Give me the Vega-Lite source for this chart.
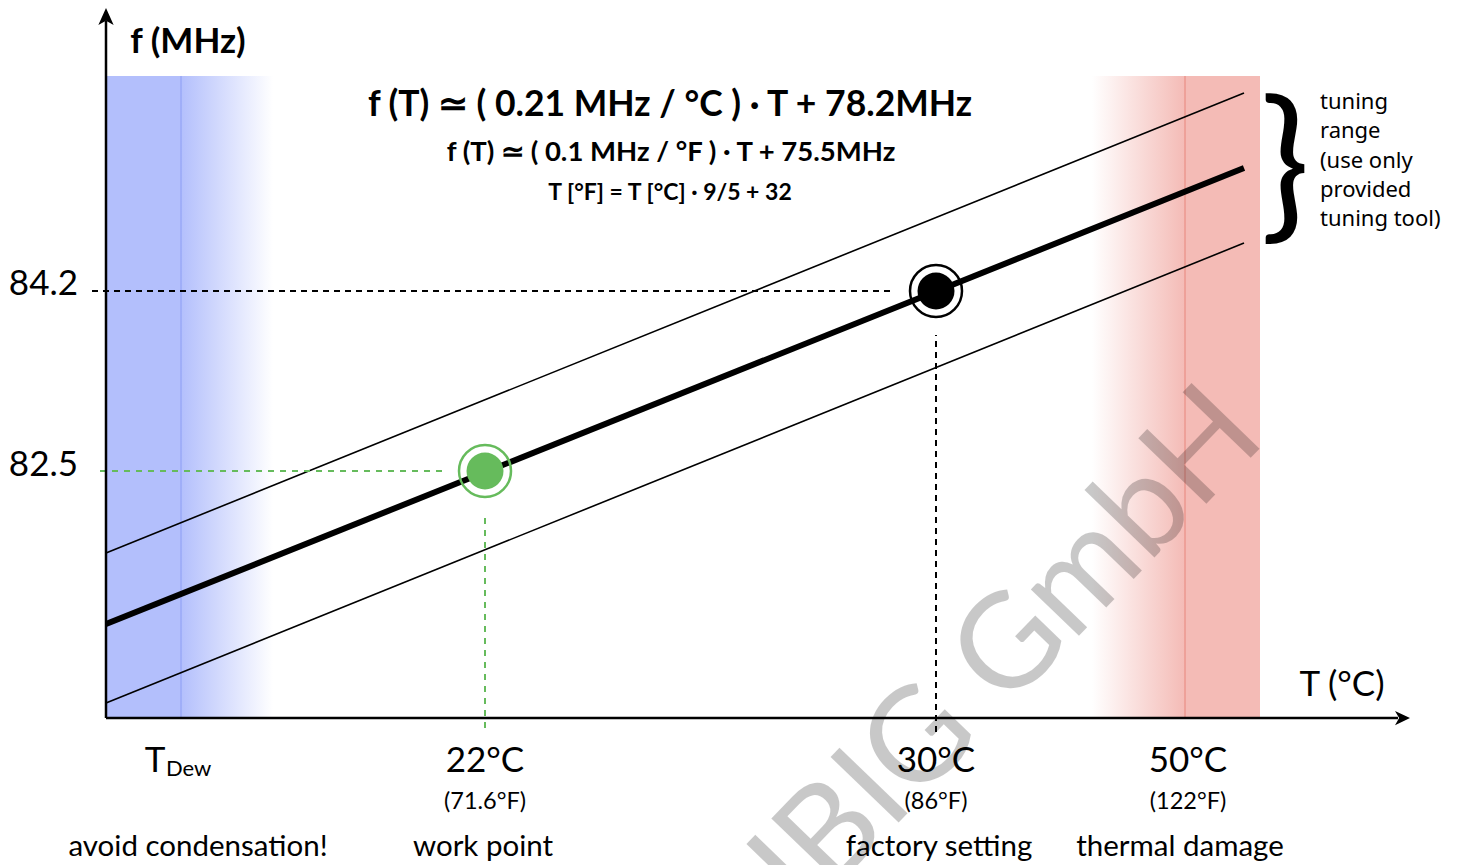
{
  "$schema": "https://vega.github.io/schema/vega-lite/v6.json",
  "width": 1461,
  "height": 865,
  "autosize": {"type": "none"},
  "padding": 0,
  "background": "#ffffff",
  "config": {"view": {"stroke": null}, "font": "Lato"},
  "encoding": {
    "x": {"field": "x", "type": "quantitative", "scale": {"domain": [0, 1461], "nice": false, "zero": false}, "axis": null},
    "y": {"field": "y", "type": "quantitative", "scale": {"domain": [78.7789, 86.9483], "nice": false, "zero": false}, "axis": null}
  },
  "layer": [
    {
      "data": {"values": [{"x": 106, "x2": 181, "y": 80.167, "y2": 86.2306}]},
      "mark": {"type": "rect", "fill": "#b3bffc", "strokeWidth": 0},
      "encoding": {"x2": {"field": "x2"}, "y2": {"field": "y2"}}
    },
    {
      "data": {"values": [{"x": 181, "x2": 273, "y": 80.167, "y2": 86.2306}]},
      "mark": {"type": "rect", "strokeWidth": 0, "fill": {"gradient": "linear", "x1": 0, "y1": 0, "x2": 1, "y2": 0, "stops": [{"offset": 0, "color": "#b3bffc"}, {"offset": 1, "color": "#ffffff"}]}},
      "encoding": {"x2": {"field": "x2"}, "y2": {"field": "y2"}}
    },
    {
      "data": {"values": [{"x": 1092, "x2": 1185, "y": 80.167, "y2": 86.2306}]},
      "mark": {"type": "rect", "strokeWidth": 0, "fill": {"gradient": "linear", "x1": 0, "y1": 0, "x2": 1, "y2": 0, "stops": [{"offset": 0, "color": "#ffffff"}, {"offset": 1, "color": "#f4bbb6"}]}},
      "encoding": {"x2": {"field": "x2"}, "y2": {"field": "y2"}}
    },
    {
      "data": {"values": [{"x": 1185, "x2": 1260, "y": 80.167, "y2": 86.2306}]},
      "mark": {"type": "rect", "fill": "#f4bbb6", "strokeWidth": 0},
      "encoding": {"x2": {"field": "x2"}, "y2": {"field": "y2"}}
    },
    {
      "data": {"values": [{"x": 181, "y": 80.167, "y2": 86.2306}]},
      "mark": {"type": "rule", "color": "#8c9df4", "strokeWidth": 1},
      "encoding": {"y2": {"field": "y2"}}
    },
    {
      "data": {"values": [{"x": 1185, "y": 80.167, "y2": 86.2306}]},
      "mark": {"type": "rule", "color": "#e8867c", "strokeWidth": 1},
      "encoding": {"y2": {"field": "y2"}}
    },
    {
      "data": {"values": [{"x": 1268, "y": 82.793, "label": "UBIG GmbH"}]},
      "mark": {"type": "text", "font": "Lato", "fontSize": 132, "angle": -46, "align": "right", "baseline": "alphabetic", "color": "#000000", "opacity": 0.21},
      "encoding": {"text": {"field": "label"}}
    },
    {
      "data": {"values": [
        {"series": "upper", "x": 106, "y": 81.7255}, {"series": "upper", "x": 1244, "y": 86.070},
        {"series": "lower", "x": 106, "y": 80.309}, {"series": "lower", "x": 1244, "y": 84.653}
      ]},
      "mark": {"type": "line", "color": "#000000", "strokeWidth": 1.6},
      "encoding": {"detail": {"field": "series"}}
    },
    {
      "data": {"values": [{"series": "nominal", "x": 106, "y": 81.055}, {"series": "nominal", "x": 1244, "y": 85.3617}]},
      "mark": {"type": "line", "color": "#000000", "strokeWidth": 6},
      "encoding": {"detail": {"field": "series"}}
    },
    {
      "data": {"values": [{"x": 92, "x2": 895, "y": 84.2}]},
      "mark": {"type": "rule", "color": "#000000", "strokeWidth": 2, "strokeDash": [6, 5]},
      "encoding": {"x2": {"field": "x2"}}
    },
    {
      "data": {"values": [{"x": 936, "y": 80.035, "y2": 83.784}]},
      "mark": {"type": "rule", "color": "#000000", "strokeWidth": 2, "strokeDash": [6, 5]},
      "encoding": {"y2": {"field": "y2"}}
    },
    {
      "data": {"values": [{"x": 100, "x2": 445, "y": 82.5}]},
      "mark": {"type": "rule", "color": "#66bb5c", "strokeWidth": 2, "strokeDash": [6, 6]},
      "encoding": {"x2": {"field": "x2"}}
    },
    {
      "data": {"values": [{"x": 485, "y": 80.073, "y2": 82.103}]},
      "mark": {"type": "rule", "color": "#66bb5c", "strokeWidth": 2, "strokeDash": [6, 6]},
      "encoding": {"y2": {"field": "y2"}}
    },
    {
      "data": {"values": [{"x": 106, "y": 80.167, "y2": 86.75}]},
      "mark": {"type": "rule", "color": "#000000", "strokeWidth": 2.5},
      "encoding": {"y2": {"field": "y2"}}
    },
    {
      "data": {"values": [{"x": 106, "x2": 1398, "y": 80.167}]},
      "mark": {"type": "rule", "color": "#000000", "strokeWidth": 2.5},
      "encoding": {"x2": {"field": "x2"}}
    },
    {
      "data": {"values": [{"x": 106, "y": 86.793}]},
      "mark": {"type": "point", "filled": true, "color": "#000000", "opacity": 1, "size": 289, "shape": "M0,-1 L0.9,1 L0,0.5 L-0.9,1 Z", "strokeWidth": 0}
    },
    {
      "data": {"values": [{"x": 1402.5, "y": 80.167}]},
      "mark": {"type": "point", "filled": true, "color": "#000000", "opacity": 1, "size": 225, "shape": "M1,0 L-1,0.95 L-0.45,0 L-1,-0.95 Z", "strokeWidth": 0}
    },
    {
      "data": {"values": [{"x": 485, "y": 82.5}]},
      "mark": {"type": "point", "filled": false, "shape": "circle", "color": "#66bb5c", "opacity": 1, "size": 2704, "strokeWidth": 2.5}
    },
    {
      "data": {"values": [{"x": 485, "y": 82.5}]},
      "mark": {"type": "point", "filled": true, "shape": "circle", "color": "#66bb5c", "opacity": 1, "size": 1369, "strokeWidth": 0}
    },
    {
      "data": {"values": [{"x": 936, "y": 84.2}]},
      "mark": {"type": "point", "filled": false, "shape": "circle", "color": "#000000", "opacity": 1, "size": 2704, "strokeWidth": 2.5}
    },
    {
      "data": {"values": [{"x": 936, "y": 84.2}]},
      "mark": {"type": "point", "filled": true, "shape": "circle", "color": "#000000", "opacity": 1, "size": 1369, "strokeWidth": 0}
    },
    {
      "data": {"values": [{"x": 188, "y": 86.552, "label": "f (MHz)"}]},
      "mark": {"type": "text", "fontSize": 35, "fontWeight": "bold", "align": "center", "baseline": "middle", "color": "#000000"},
      "encoding": {"text": {"field": "label"}}
    },
    {
      "data": {"values": [{"x": 670, "y": 85.957, "label": "f (T) ≃ ( 0.21 MHz / °C ) · T + 78.2MHz"}]},
      "mark": {"type": "text", "fontSize": 35.5, "fontWeight": "bold", "align": "center", "baseline": "middle", "color": "#000000"},
      "encoding": {"text": {"field": "label"}}
    },
    {
      "data": {"values": [{"x": 671, "y": 85.503, "label": "f (T) ≃ ( 0.1 MHz / °F ) · T + 75.5MHz"}]},
      "mark": {"type": "text", "fontSize": 27.5, "fontWeight": "bold", "align": "center", "baseline": "middle", "color": "#000000"},
      "encoding": {"text": {"field": "label"}}
    },
    {
      "data": {"values": [{"x": 670, "y": 85.126, "label": "T [°F] = T [°C] · 9/5 + 32"}]},
      "mark": {"type": "text", "fontSize": 23, "fontWeight": "bold", "align": "center", "baseline": "middle", "color": "#000000"},
      "encoding": {"text": {"field": "label"}}
    },
    {
      "data": {"values": [{"x": 78, "y": 84.266, "label": "84.2"}, {"x": 78, "y": 82.557, "label": "82.5"}]},
      "mark": {"type": "text", "fontSize": 35, "align": "right", "baseline": "middle", "color": "#000000"},
      "encoding": {"text": {"field": "label"}}
    },
    {
      "data": {"values": [{"x": 1342, "y": 80.479, "label": "T (°C)"}]},
      "mark": {"type": "text", "fontSize": 35, "align": "center", "baseline": "middle", "color": "#000000"},
      "encoding": {"text": {"field": "label"}}
    },
    {
      "data": {"values": [{"x": 485, "y": 79.761, "label": "22°C"}, {"x": 936, "y": 79.761, "label": "30°C"}, {"x": 1188, "y": 79.761, "label": "50°C"}, {"x": 155, "y": 79.761, "label": "T"}]},
      "mark": {"type": "text", "fontSize": 35, "align": "center", "baseline": "middle", "color": "#000000"},
      "encoding": {"text": {"field": "label"}}
    },
    {
      "data": {"values": [{"x": 166, "y": 79.686, "label": "Dew"}]},
      "mark": {"type": "text", "fontSize": 22, "align": "left", "baseline": "middle", "color": "#000000"},
      "encoding": {"text": {"field": "label"}}
    },
    {
      "data": {"values": [{"x": 485, "y": 79.374, "label": "(71.6°F)"}, {"x": 936, "y": 79.374, "label": "(86°F)"}, {"x": 1188, "y": 79.374, "label": "(122°F)"}]},
      "mark": {"type": "text", "fontSize": 23.5, "align": "center", "baseline": "middle", "color": "#000000"},
      "encoding": {"text": {"field": "label"}}
    },
    {
      "data": {"values": [{"x": 198, "y": 78.949, "label": "avoid condensation!"}, {"x": 483, "y": 78.949, "label": "work point"}, {"x": 939, "y": 78.949, "label": "factory setting"}, {"x": 1180, "y": 78.949, "label": "thermal damage"}]},
      "mark": {"type": "text", "fontSize": 29.5, "align": "center", "baseline": "middle", "color": "#000000"},
      "encoding": {"text": {"field": "label"}}
    },
    {
      "data": {"values": [{"x": 1285, "y": 85.343, "label": "}"}]},
      "mark": {"type": "text", "fontSize": 165, "align": "center", "baseline": "middle", "color": "#000000"},
      "encoding": {"text": {"field": "label"}}
    },
    {
      "data": {"values": [{"x": 1320, "y": 85.985, "label": ["tuning", "range", "(use only", "provided", "tuning tool)"]}]},
      "mark": {"type": "text", "font": "Noto Sans", "fontSize": 22, "lineHeight": 29.3, "align": "left", "baseline": "middle", "color": "#000000"},
      "encoding": {"text": {"field": "label"}}
    }
  ]
}
